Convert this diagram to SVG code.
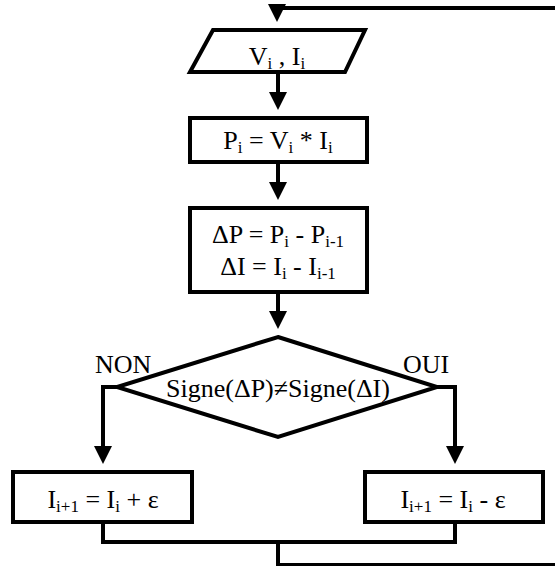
<svg xmlns="http://www.w3.org/2000/svg" width="555" height="566" viewBox="0 0 555 566">
<style>
.n{fill:#fff;stroke:#000;stroke-width:4;stroke-linejoin:miter}
.c{fill:none;stroke:#000;stroke-width:4}
text{font-family:"Liberation Serif","Times New Roman",serif;font-size:26px;fill:#000}
.m{text-anchor:middle}
.s{font-size:17px}
</style>
<defs>
<marker id="ah" markerUnits="userSpaceOnUse" markerWidth="18" markerHeight="18" viewBox="0 0 18 18" refX="8" refY="9" orient="auto">
<path d="M0,0 L18,9 L0,18 z" fill="#000"/>
</marker>
</defs>
<rect width="555" height="566" fill="#fff"/>
<g id="connectors">
<path class="c" d="M557,8 H277 V12" marker-end="url(#ah)"/>
<path class="c" d="M278,72 V100" marker-end="url(#ah)"/>
<path class="c" d="M278,162 V190" marker-end="url(#ah)"/>
<path class="c" d="M278,292 V319" marker-end="url(#ah)"/>
<path class="c" d="M117,387 H103 V454" marker-end="url(#ah)"/>
<path class="c" d="M437,387 H455 V454" marker-end="url(#ah)"/>
<path class="c" d="M103,522 V542 H455 V520"/>
<path class="c" d="M278,542 V565 H557"/>
</g>
<g id="input">
<polygon class="n" points="213,30 365,30 345,72 190,72"/>
<text class="m" x="277" y="65">V<tspan class="s" dy="4">i</tspan><tspan dy="-4"> , I</tspan><tspan class="s" dy="4">i</tspan></text>
</g>
<g id="power">
<rect class="n" x="190" y="118" width="177" height="44"/>
<text class="m" x="278" y="149">P<tspan class="s" dy="4">i</tspan><tspan dy="-4"> = V</tspan><tspan class="s" dy="4">i</tspan><tspan dy="-4"> * I</tspan><tspan class="s" dy="4">i</tspan></text>
</g>
<g id="delta">
<rect class="n" x="190" y="208" width="177" height="84"/>
<text class="m" x="278" y="243">ΔP = P<tspan class="s" dy="4">i</tspan><tspan dy="-4"> - P</tspan><tspan class="s" dy="4">i-1</tspan></text>
<text class="m" x="278" y="275">ΔI = I<tspan class="s" dy="4">i</tspan><tspan dy="-4"> - I</tspan><tspan class="s" dy="4">i-1</tspan></text>
</g>
<g id="decision">
<polygon class="n" points="278,337 437,387 278,437 117,387"/>
<text class="m" x="278" y="397">Signe(ΔP)≠Signe(ΔI)</text>
<text x="95" y="373">NON</text>
<text x="403" y="373">OUI</text>
</g>
<g id="increase">
<rect class="n" x="13" y="472" width="179" height="50"/>
<text class="m" x="103" y="508">I<tspan class="s" dy="4">i+1</tspan><tspan dy="-4"> = I</tspan><tspan class="s" dy="4">i</tspan><tspan dy="-4"> + ε</tspan></text>
</g>
<g id="decrease">
<rect class="n" x="365" y="472" width="178" height="50"/>
<text class="m" x="453" y="508">I<tspan class="s" dy="4">i+1</tspan><tspan dy="-4"> = I</tspan><tspan class="s" dy="4">i</tspan><tspan dy="-4"> - ε</tspan></text>
</g>
</svg>
